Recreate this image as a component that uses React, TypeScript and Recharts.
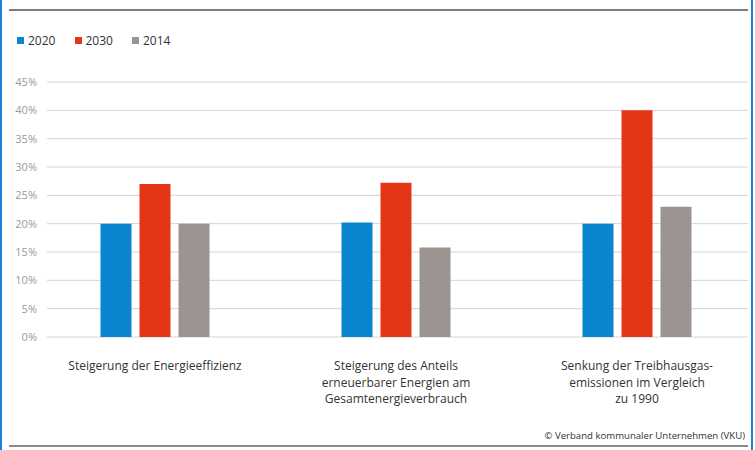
import React from "react";
import { BarChart, Bar, XAxis, YAxis, CartesianGrid, Legend } from "recharts";

const categories = [
  "Steigerung der Energieeffizienz",
  "Steigerung des Anteils erneuerbarer Energien am Gesamtenergieverbrauch",
  "Senkung der Treibhausgas-emissionen im Vergleich zu 1990",
];
const categoryLines = [
  ["Steigerung der Energieeffizienz"],
  ["Steigerung des Anteils", "erneuerbarer Energien am", "Gesamtenergieverbrauch"],
  ["Senkung der Treibhausgas-", "emissionen im Vergleich", "zu 1990"],
];
const values2020 = [20, 20.2, 20];
const values2030 = [27, 27.2, 40];
const values2014 = [20, 15.8, 23];
const seriesNames = ["2020", "2030", "2014"];
const seriesColors = ["#0a85d0", "#e53517", "#9c9490"];
const yTicks = [0, 5, 10, 15, 20, 25, 30, 35, 40, 45];
const sourceText = "© Verband kommunaler Unternehmen (VKU)";

const data = categories.map((c, i) => ({
  name: c,
  "2020": values2020[i],
  "2030": values2030[i],
  "2014": values2014[i],
}));

const FONT = "'Open Sans', sans-serif";

const CategoryTick = (props: any) => {
  const { x, y, payload } = props;
  const lines = categoryLines[payload.index] || [payload.value];
  return (
    <text x={x} y={y} textAnchor="middle" fill="#333" fontSize={12} fontFamily={FONT}>
      {lines.map((l: string, i: number) => (
        <tspan key={i} x={x} dy={i === 0 ? 11 : 16.5}>
          {l}
        </tspan>
      ))}
    </text>
  );
};

const LegendContent = (props: any) => {
  const payload = [...(props.payload || [])].sort(
    (a: any, b: any) => seriesNames.indexOf(String(a.value)) - seriesNames.indexOf(String(b.value))
  );
  return (
    <div style={{ display: "flex", fontFamily: FONT, fontSize: 12, color: "#333" }}>
      {payload.map((p: any, i: number) => (
        <div key={i} style={{ display: "flex", alignItems: "center", width: 57.5 }}>
          <span style={{ display: "inline-block", width: 7, height: 7, background: p.color, marginRight: 4 }} />
          <span>{p.value}</span>
        </div>
      ))}
    </div>
  );
};

export default function App() {
  return (
    <div style={{ position: "absolute", left: 0, top: 0, width: 755, height: 450, background: "#fff", fontFamily: FONT }}>
      <div style={{ position: "absolute", left: 0, top: 0, width: 2, height: 450, background: "#1a82d6" }} />
      <div style={{ position: "absolute", left: 751, top: 0, width: 2, height: 450, background: "#1a82d6" }} />
      <div style={{ position: "absolute", left: 9, top: 9, width: 739, height: 2, background: "#7d7d7d" }} />
      <div style={{ position: "absolute", left: 9, top: 445, width: 739, height: 2, background: "#8a8a8a" }} />
      <BarChart
        width={755}
        height={450}
        data={data}
        margin={{ top: 82, right: 7, left: 0, bottom: 33 }}
        barSize={31}
        barGap={8}
      >
        <CartesianGrid vertical={false} stroke="#d4d4d4" strokeWidth={1} />
        <XAxis
          dataKey="name"
          height={80}
          axisLine={false}
          tickLine={false}
          tickMargin={16}
          interval={0}
          padding={{ left: -12.5, right: -9.5 }}
          tick={<CategoryTick />}
        />
        <YAxis
          width={47}
          domain={[0, 45]}
          ticks={yTicks}
          axisLine={false}
          tickLine={false}
          tickMargin={4}
          tickFormatter={(v: number) => `${v}%`}
          tick={{ fill: "#9a9a9a", fontSize: 11, fontFamily: FONT }}
        />
        <Legend
          layout="horizontal"
          verticalAlign="middle"
          align="center"
          itemSorter={null as any}
          content={<LegendContent />}
          wrapperStyle={{ top: 32, left: 17, width: "auto" }}
        />
        {seriesNames.map((s, i) => (
          <Bar key={s} dataKey={s} fill={seriesColors[i]} isAnimationActive={false} />
        ))}
      </BarChart>
      <div style={{ position: "absolute", right: 10, top: 429, fontSize: 9.6, color: "#333" }}>{sourceText}</div>
    </div>
  );
}
